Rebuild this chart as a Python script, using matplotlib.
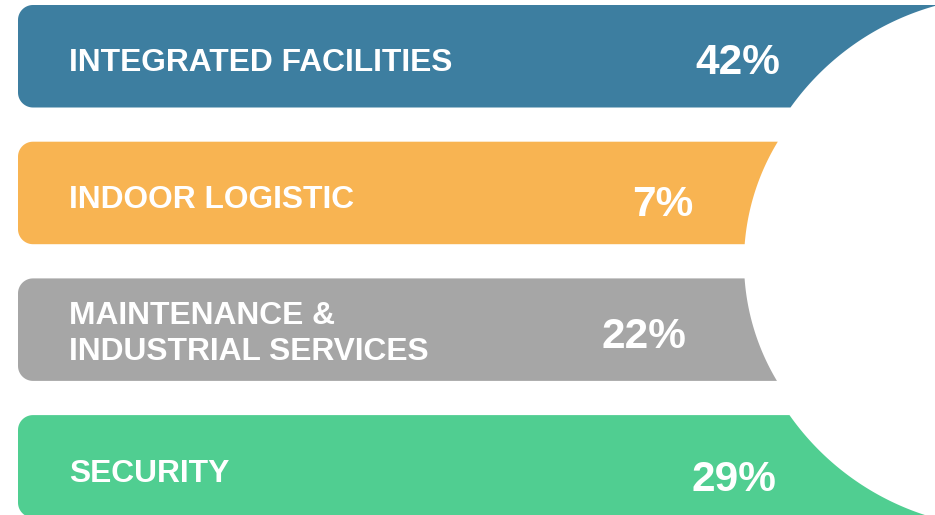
import numpy as np
import matplotlib
matplotlib.use("Agg")
import matplotlib.pyplot as plt
from matplotlib.patches import Polygon

# ---- data ----
categories = ["INTEGRATED FACILITIES", "INDOOR LOGISTIC",
              "MAINTENANCE &\nINDUSTRIAL SERVICES", "SECURITY"]
shares = [42, 7, 22, 29]
colors = ["#3D7EA0", "#F8B452", "#A6A6A6", "#50CE91"]

# ---- layout (pixel-like units) ----
W, H = 935, 515
left_x = 18
first_top = 5
pitch = 136.7
band_h = 102.5
corner_r = 15
center_y = 262
# right edge arcs: outer bands use a larger circle than inner bands
arc_params = [(1007, 266), (975, 231), (975, 231), (1007, 266)]
label_x = 69
label_base_off = [66, 66.5, 46, 66.5]
label_line_gap = 36
pct_right = [780, 693, 686, 776]
pct_base_off = [68.5, 74, 70, 76]

fig = plt.figure(figsize=(W / 100, H / 100), dpi=100)
ax = fig.add_axes([0, 0, 1, 1])
ax.set_xlim(0, W)
ax.set_ylim(H, 0)
ax.axis("off")

for i, (cat, val, col) in enumerate(zip(categories, shares, colors)):
    top = first_top + i * pitch
    bot = top + band_h
    cx, r = arc_params[i]

    def xr(y):
        return cx - np.sqrt(np.maximum(r ** 2 - (y - center_y) ** 2, 0))

    pts = []
    # top-left corner
    th = np.linspace(np.pi, 1.5 * np.pi, 20)
    pts += list(zip(left_x + corner_r + corner_r * np.cos(th),
                    top + corner_r + corner_r * np.sin(th)))
    # right arc, top to bottom
    ys = np.linspace(top, bot, 80)
    pts += list(zip(xr(ys), ys))
    # bottom-left corner
    th = np.linspace(0.5 * np.pi, np.pi, 20)
    pts += list(zip(left_x + corner_r + corner_r * np.cos(th),
                    bot - corner_r + corner_r * np.sin(th)))
    ax.add_patch(Polygon(pts, closed=True, facecolor=col, edgecolor="none"))

    # category label
    for j, line in enumerate(cat.split("\n")):
        ax.text(label_x, top + label_base_off[i] + j * label_line_gap, line,
                color="white", fontsize=22.9, fontweight="bold",
                family="Liberation Sans", ha="left", va="baseline")
    # percentage
    ax.text(pct_right[i], top + pct_base_off[i], f"{val}%",
            color="white", fontsize=30.5, fontweight="bold",
            family="Liberation Sans", ha="right", va="baseline")

fig.savefig("out.png", dpi=100, facecolor="white")
